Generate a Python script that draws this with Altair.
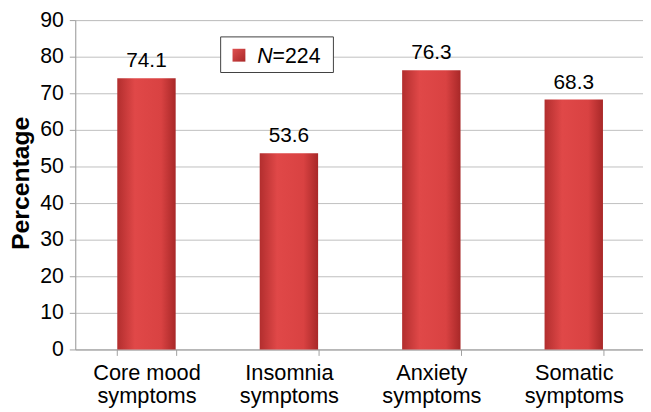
import altair as alt
import pandas as pd

categories = ["Core mood\nsymptoms", "Insomnia\nsymptoms", "Anxiety\nsymptoms", "Somatic\nsymptoms"]
values = [74.1, 53.6, 76.3, 68.3]
y_ticks = [0, 10, 20, 30, 40, 50, 60, 70, 80, 90]
legend_n = "N"
legend_rest = "=224"

df = pd.DataFrame({"cat": categories, "val": values, "lab": [f"{v:.1f}" for v in values]})

FONT = "Liberation Sans"
TOP = 10
H = 351 - 8 - TOP
bar_grad = alt.Gradient(
    gradient="linear", x1=0, x2=1, y1=0, y2=0,
    stops=[alt.GradientStop(color="#B22E2E", offset=0),
           alt.GradientStop(color="#E04848", offset=0.3),
           alt.GradientStop(color="#D94242", offset=0.75),
           alt.GradientStop(color="#A82828", offset=1)],
)

x = alt.X("cat:N", sort=categories, title=None,
          scale=alt.Scale(range=[0, 576], paddingInner=0.59, paddingOuter=0.295),
          axis=alt.Axis(labelExpr="split(datum.label, '\\n')", labelAngle=0,
                        labelFont=FONT, labelFontSize=22, labelColor="#000000",
                        labelPadding=7, labelLineHeight=24,
                        tickBand="extent", tickSize=6, tickColor="#A0A0A0",
                        domainColor="#A0A0A0", grid=False))
y = alt.Y("val:Q", title="Percentage",
          scale=alt.Scale(domain=[0, 90], nice=False),
          axis=alt.Axis(values=y_ticks, labelFont=FONT, labelFontSize=21.5, labelColor="#000000",
                        titleFont=FONT, titleFontSize=25, titleFontWeight="bold",
                        titleColor="#000000", titleX=-55, titleY=(H / 2 - 2),
                        titleBaseline="middle", titleAlign="center", titleAngle=270,
                        tickSize=6, tickColor="#A0A0A0", domainColor="#A0A0A0",
                        gridColor="#BFBFBF", labelPadding=6, labelOverlap=False))

base = alt.Chart(df)
bars = base.mark_bar(color=bar_grad).encode(x=x, y=y)
labels = base.mark_text(baseline="alphabetic", dy=-11, font=FONT, fontSize=21, color="#000000").encode(
    x=x, y=y, text="lab:N")

one = pd.DataFrame({"a": [0]})
oy = 9 - TOP  # legend positions relative to plot top
leg_box = alt.Chart(one).mark_rect(fill="white", stroke="#404040", strokeWidth=1).encode(
    x=alt.value(147), x2=alt.value(261), y=alt.value(18 + oy), y2=alt.value(54 + oy))
leg_sym = alt.Chart(one).mark_rect(color=alt.Gradient(
    gradient="linear", x1=0, x2=1, y1=0, y2=1,
    stops=[alt.GradientStop(color="#E05050", offset=0),
           alt.GradientStop(color="#A82828", offset=1)])).encode(
    x=alt.value(159), x2=alt.value(172), y=alt.value(30 + oy), y2=alt.value(43 + oy))
leg_n = alt.Chart(one).mark_text(align="left", baseline="alphabetic", font=FONT, fontSize=21.5,
                                 fontStyle="italic", color="#000000", text=legend_n).encode(
    x=alt.value(184), y=alt.value(44 + oy))
leg_rest = alt.Chart(one).mark_text(align="left", baseline="alphabetic", font=FONT, fontSize=21.5,
                                    color="#000000", text=legend_rest).encode(
    x=alt.value(199.5), y=alt.value(44 + oy))

chart = alt.layer(bars, labels, leg_box, leg_sym, leg_n, leg_rest).properties(
    width=574, height=H,
    autosize=alt.AutoSizeParams(type="none"),
    padding={"left": 68, "top": TOP, "right": 0, "bottom": 403 - TOP - H},
).configure_view(stroke=None).configure(background="white")

chart.save("out.html", embed_options={"renderer": "svg", "actions": False})
